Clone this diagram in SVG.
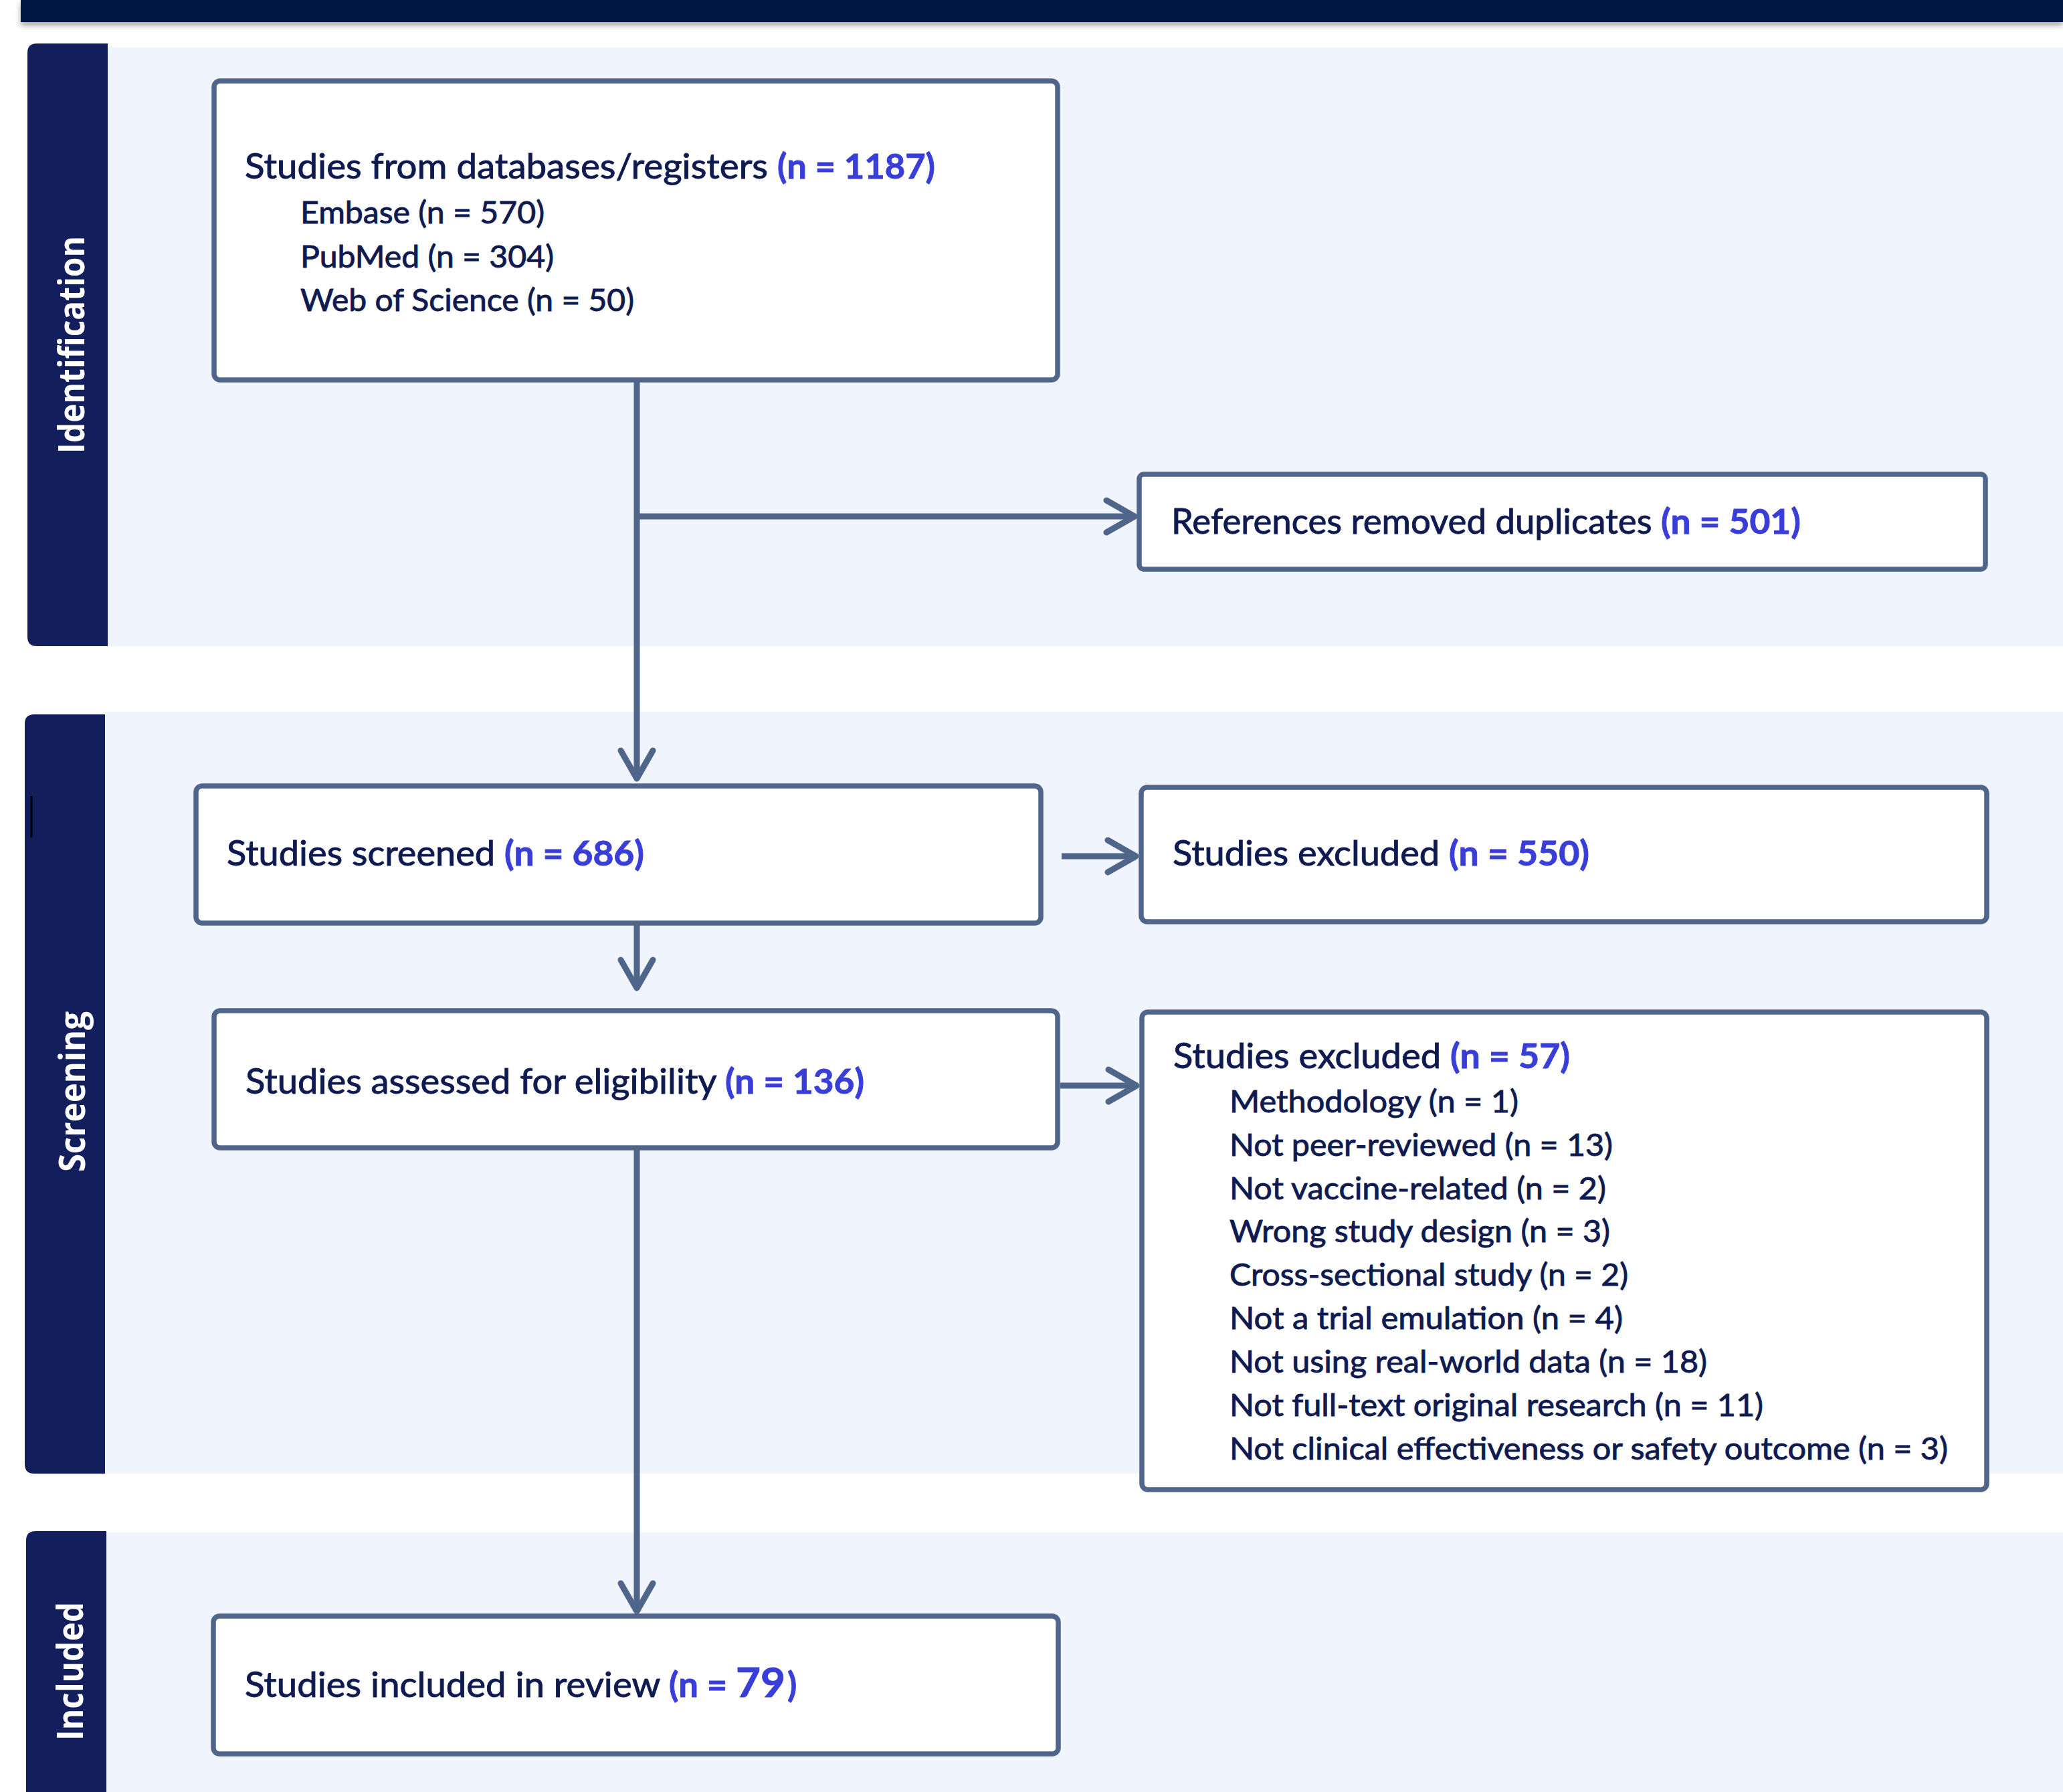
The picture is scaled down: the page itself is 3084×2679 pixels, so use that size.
<svg xmlns="http://www.w3.org/2000/svg" width="3084" height="2679" viewBox="0 0 3084 2679">
<defs>
<style>
.band{fill:#EFF4FD}
.side{fill:#121F5C}
.lbl{font-family:"Open Sans","Liberation Sans",sans-serif;font-weight:700;font-size:54px;fill:#FFFFFF;text-anchor:middle}
.box{fill:#FFFFFF;stroke:#50658A;stroke-width:7.5}
.t{font-family:Lato,"Liberation Sans",sans-serif;font-size:52px;fill:#0E1A50;stroke:#0E1A50;stroke-width:0.9}
.s{font-size:47px}
.b{font-weight:700;fill:#3A3ED8;stroke:#3A3ED8;stroke-width:0.9}
.con{fill:none;stroke:#50658A;stroke-width:9}
</style>
<filter id="sh" x="-2%" y="-50%" width="104%" height="250%">
<feDropShadow dx="0" dy="5" stdDeviation="4" flood-color="#000000" flood-opacity="0.35"/>
</filter>
<marker id="ah" markerUnits="userSpaceOnUse" viewBox="-60 -35 70 70" refX="0" refY="0" markerWidth="70" markerHeight="70" orient="auto" overflow="visible">
<path d="M-42,-24 L0,0 L-42,24" fill="none" stroke="#50658A" stroke-width="9" stroke-linecap="round" stroke-linejoin="round"/>
</marker>
</defs>
<rect x="0" y="0" width="3084" height="2679" fill="#FFFFFF"/>
<rect x="31" y="0" width="3053" height="33" fill="#011544" filter="url(#sh)"/>

<g id="phase-identification">
<rect class="band" x="161" y="71" width="2923" height="895"/>
<path class="side" d="M55,65 H161 V966 H55 Q41,966 41,952 V79 Q41,65 55,65 Z"/>
<text class="lbl" transform="translate(126,515.5) rotate(-90)" textLength="325" lengthAdjust="spacingAndGlyphs">Identification</text>
</g>
<g id="phase-screening">
<rect class="band" x="157" y="1064" width="2927" height="1139"/>
<path class="side" d="M51,1068 H157 V2203 H51 Q37,2203 37,2189 V1082 Q37,1068 51,1068 Z"/>
<line x1="47" y1="1190" x2="47" y2="1252" stroke="#000000" stroke-width="3"/>
<text class="lbl" transform="translate(127,1632) rotate(-90)" textLength="240" lengthAdjust="spacingAndGlyphs">Screening</text>
</g>
<g id="phase-included">
<rect class="band" x="159" y="2291" width="2925" height="388"/>
<path class="side" d="M53,2289 H159 V2679 H39 V2303 Q39,2289 53,2289 Z"/>
<text class="lbl" transform="translate(124,2498.5) rotate(-90)" textLength="207" lengthAdjust="spacingAndGlyphs">Included</text>
</g>

<g id="connectors">
<path class="con" d="M952,571 V1164" marker-end="url(#ah)"/>
<path class="con" d="M952,772 H1696" marker-end="url(#ah)"/>
<path class="con" d="M952,1383 V1477" marker-end="url(#ah)"/>
<path class="con" d="M952,1719 V2409" marker-end="url(#ah)"/>
<path class="con" d="M1587,1280 H1698" marker-end="url(#ah)"/>
<path class="con" d="M1585,1623 H1699" marker-end="url(#ah)"/>
</g>

<g id="node-databases">
<rect class="box" x="320" y="121" width="1261" height="447" rx="9"/>
<text class="t" y="267"><tspan x="366" textLength="796" lengthAdjust="spacingAndGlyphs">Studies from databases/registers </tspan><tspan class="b" x="1162" textLength="236" lengthAdjust="spacingAndGlyphs">(n = 1187)</tspan></text>
<text class="t s" x="449" y="334" textLength="365" lengthAdjust="spacingAndGlyphs">Embase (n = 570)</text>
<text class="t s" x="449" y="400" textLength="379" lengthAdjust="spacingAndGlyphs">PubMed (n = 304)</text>
<text class="t s" x="449" y="465" textLength="499" lengthAdjust="spacingAndGlyphs">Web of Science (n = 50)</text>
</g>

<g id="node-duplicates">
<rect class="box" x="1703" y="709" width="1265" height="142" rx="7"/>
<text class="t" y="798"><tspan x="1751" textLength="732" lengthAdjust="spacingAndGlyphs">References removed duplicates </tspan><tspan class="b" x="2483" textLength="209" lengthAdjust="spacingAndGlyphs">(n = 501)</tspan></text>
</g>

<g id="node-screened">
<rect class="box" x="293" y="1175" width="1263" height="205" rx="9"/>
<text class="t" y="1294"><tspan x="339" textLength="415" lengthAdjust="spacingAndGlyphs">Studies screened </tspan><tspan class="b" x="754" textLength="209" lengthAdjust="spacingAndGlyphs">(n = 686)</tspan></text>
</g>

<g id="node-excluded-screening">
<rect class="box" x="1706" y="1177" width="1264" height="201" rx="9"/>
<text class="t" y="1294"><tspan x="1753" textLength="413" lengthAdjust="spacingAndGlyphs">Studies excluded </tspan><tspan class="b" x="2166" textLength="210" lengthAdjust="spacingAndGlyphs">(n = 550)</tspan></text>
</g>

<g id="node-assessed">
<rect class="box" x="320" y="1511" width="1261" height="205" rx="9"/>
<text class="t" y="1635"><tspan x="367" textLength="717" lengthAdjust="spacingAndGlyphs">Studies assessed for eligibility </tspan><tspan class="b" x="1084" textLength="208" lengthAdjust="spacingAndGlyphs">(n = 136)</tspan></text>
</g>

<g id="node-excluded-eligibility">
<rect class="box" x="1707" y="1513" width="1263" height="714" rx="9"/>
<text class="t" y="1597"><tspan x="1754" textLength="414" lengthAdjust="spacingAndGlyphs">Studies excluded </tspan><tspan class="b" x="2168" textLength="179" lengthAdjust="spacingAndGlyphs">(n = 57)</tspan></text>
<text class="t s" x="1838" y="1663" textLength="432" lengthAdjust="spacingAndGlyphs">Methodology (n = 1)</text>
<text class="t s" x="1838" y="1728" textLength="573" lengthAdjust="spacingAndGlyphs">Not peer-reviewed (n = 13)</text>
<text class="t s" x="1838" y="1793" textLength="563" lengthAdjust="spacingAndGlyphs">Not vaccine-related (n = 2)</text>
<text class="t s" x="1838" y="1857" textLength="569" lengthAdjust="spacingAndGlyphs">Wrong study design (n = 3)</text>
<text class="t s" x="1838" y="1922" textLength="596" lengthAdjust="spacingAndGlyphs">Cross-sectional study (n = 2)</text>
<text class="t s" x="1838" y="1987" textLength="588" lengthAdjust="spacingAndGlyphs">Not a trial emulation (n = 4)</text>
<text class="t s" x="1838" y="2052" textLength="714" lengthAdjust="spacingAndGlyphs">Not using real-world data (n = 18)</text>
<text class="t s" x="1838" y="2117" textLength="798" lengthAdjust="spacingAndGlyphs">Not full-text original research (n = 11)</text>
<text class="t s" x="1838" y="2182" textLength="1074" lengthAdjust="spacingAndGlyphs">Not clinical effectiveness or safety outcome (n = 3)</text>
</g>

<g id="node-included">
<rect class="box" x="319" y="2416" width="1263" height="206" rx="9"/>
<text class="t" y="2537"><tspan x="366" textLength="634" lengthAdjust="spacingAndGlyphs">Studies included in review </tspan><tspan class="b" x="1000" textLength="100" lengthAdjust="spacingAndGlyphs">(n = </tspan><tspan class="b" x="1100" font-size="61" textLength="74" lengthAdjust="spacingAndGlyphs">79</tspan><tspan class="b" x="1177">)</tspan></text>
</g>
</svg>
